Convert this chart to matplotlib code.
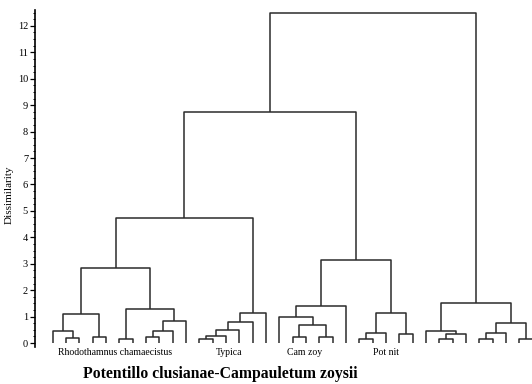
import matplotlib
matplotlib.use("Agg")
import matplotlib.pyplot as plt
from matplotlib.ticker import MultipleLocator

# number of releves (leaves), in dendrogram order
n_leaves = 37

# merges: (left id, right id, dissimilarity); ids >= n_leaves are earlier merges
merge_left = [1, 0, 3, 38, 5, 7, 42, 43, 41, 40,
              11, 47, 48, 49, 50, 46,
              18, 20, 53, 17, 56,
              23, 58, 26, 59, 57, 52,
              29, 64, 28, 32, 67, 35, 68, 66, 63]
merge_right = [2, 37, 4, 39, 6, 8, 9, 10, 44, 45,
               12, 13, 14, 15, 16, 51,
               19, 21, 54, 55, 22,
               24, 25, 27, 60, 61, 62,
               30, 31, 65, 33, 34, 36, 69, 70, 71]
merge_height = [0.18, 0.45, 0.23, 1.09, 0.14, 0.22, 0.47, 0.82, 1.29, 2.84,
                0.14, 0.27, 0.49, 0.81, 1.12, 4.73,
                0.22, 0.22, 0.67, 1.00, 1.40,
                0.16, 0.37, 0.36, 1.14, 3.14, 8.75,
                0.14, 0.33, 0.47, 0.14, 0.37, 0.17, 0.77, 1.50, 12.50]

group_names = ["Rhodothamnus chamaecistus", "Typica", "Cam zoy", "Pot nit"]
title = "Potentillo clusianae-Campauletum zoysii"

line_color = "#2b2b2b"
serif = ["Liberation Serif", "DejaVu Serif"]

fig = plt.figure(figsize=(5.32, 3.84), dpi=100)
ax = fig.add_axes([35 / 532, 37 / 384, 1 - 35 / 532, 337 / 384])

# x position and height of every node
xpos = {i: float(i) for i in range(n_leaves)}
ypos = {i: 0.0 for i in range(n_leaves)}
for k, (a, b, h) in enumerate(zip(merge_left, merge_right, merge_height)):
    node = n_leaves + k
    ax.plot([xpos[a], xpos[a], xpos[b], xpos[b]],
            [ypos[a], h, h, ypos[b]],
            color=line_color, lw=1.1, solid_capstyle="butt")
    xpos[node] = (xpos[a] + xpos[b]) / 2
    ypos[node] = h

ax.set_xlim(-1.33, 35.95)
ax.set_ylim(-0.15, 12.6)

for s in ["top", "right", "bottom"]:
    ax.spines[s].set_visible(False)
ax.spines["left"].set_color("black")
ax.spines["left"].set_linewidth(1.2)
ax.set_xticks([])
ax.yaxis.set_major_locator(MultipleLocator(1))
ax.yaxis.set_minor_locator(MultipleLocator(0.25))
ax.tick_params(axis="y", which="major", direction="out", length=3.5, width=0.9, pad=1.5)
ax.tick_params(axis="y", which="minor", direction="out", length=1.8, width=0.7)
for lab in ax.get_yticklabels():
    lab.set_family(serif)
    lab.set_fontsize(7.5)

fig.text(9 / 532, 1 - 195 / 384, "Dissimilarity", rotation=90, ha="center",
         va="center", family=serif, fontsize=8)

label_x = [4.7, 13.2, 18.9, 25.0]
for name, x in zip(group_names, label_x):
    ax.text(x, -0.34, name, ha="center", va="center", family=serif,
            fontsize=7, clip_on=False)

fig.text(220 / 532, 1 - 374 / 384, title, ha="center", va="center",
         family=serif, fontsize=11.3, fontweight="bold")

fig.savefig("out.png", dpi=100)
